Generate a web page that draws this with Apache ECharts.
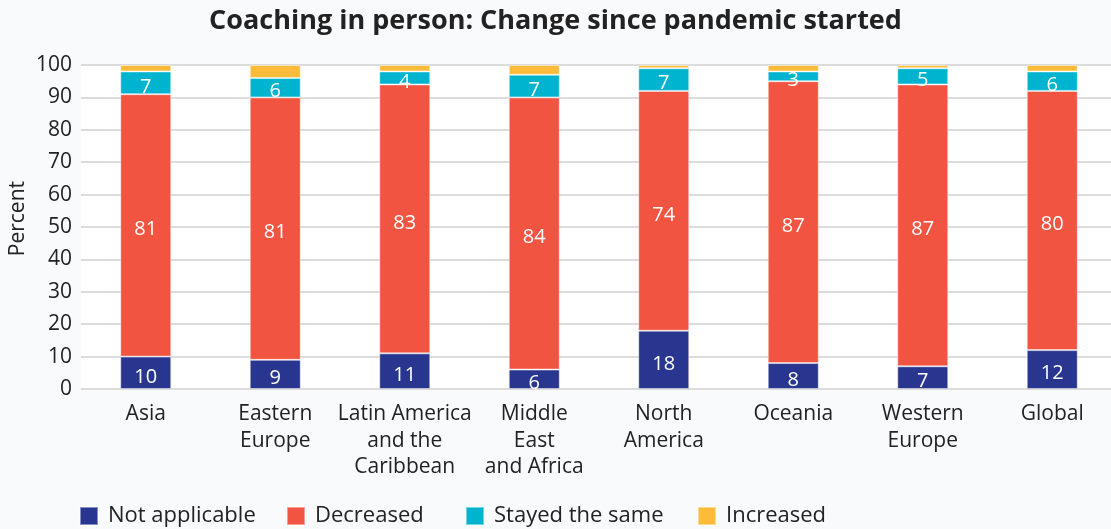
<!DOCTYPE html>
<html>
<head>
<meta charset="utf-8">
<script src="https://cdn.jsdelivr.net/npm/echarts@6/dist/echarts.min.js"></script>
<style>
    * { margin: 0; padding: 0; }
    body { background: #f9fafc; }
    #main { width: 1111px; height: 529px; }
</style>
</head>
<body>
<div id="main"></div>
<script>
    // regions along the x axis
    var regions = ['Asia', 'Eastern\nEurope', 'Latin America\nand the\nCaribbean', 'Middle\nEast\nand Africa',
        'North\nAmerica', 'Oceania', 'Western\nEurope', 'Global'];
    // percent of respondents, per region
    var notApplicable = [10, 9, 11, 6, 18, 8, 7, 12];
    var decreased = [81, 81, 83, 84, 74, 87, 87, 80];
    var stayedSame = [7, 6, 4, 7, 7, 3, 5, 6];
    var increased = [2, 4, 2, 3, 1, 2, 1, 2];

    var seriesNames = ['Not applicable', 'Decreased', 'Stayed the same', 'Increased'];
    var colors = ['#29368f', '#f15441', '#00b4d0', '#fdbb3b'];
    // left edge of each legend entry
    var legendLeft = [74, 281, 460, 692];

    var font = 'Open Sans';
    var myChart = echarts.init(document.getElementById('main'));

    function bar(i, data, showLabel) {
        return {
            name: seriesNames[i],
            type: 'bar',
            stack: 'total',
            barWidth: 51,
            data: data,
            itemStyle: {
                color: colors[i],
                borderColor: 'rgba(255,255,255,0.45)',
                borderWidth: 1
            },
            label: {
                show: showLabel,
                position: 'inside',
                offset: [0, 4],
                color: '#fff',
                fontFamily: font,
                fontSize: 20
            }
        };
    }

    // one legend per entry so the uneven gaps can be matched
    var legends = seriesNames.map(function (name, i) {
        return {
            data: [name],
            left: legendLeft[i],
            top: 500,
            itemWidth: 18,
            itemHeight: 18,
            itemGap: 0,
            icon: 'rect',
            textStyle: {
                fontFamily: font,
                fontSize: 22,
                color: '#222',
                padding: [0, 0, 0, 5]
            }
        };
    });

    var option = {
        backgroundColor: '#f9fafc',
        animation: false,
        title: {
            text: 'Coaching in person: Change since pandemic started',
            left: 'center',
            top: 3,
            textStyle: {
                fontFamily: font,
                fontWeight: 'bold',
                fontSize: 27,
                color: '#222'
            }
        },
        // y axis title, placed by hand
        graphic: [{
            type: 'text',
            left: 8,
            top: 181,
            rotation: Math.PI / 2,
            style: {
                text: 'Percent',
                fontFamily: font,
                fontSize: 21,
                fill: '#222'
            }
        }],
        legend: legends,
        grid: {
            left: 81,
            top: 65,
            width: 1036,
            height: 324,
            outerBoundsMode: 'none',
            show: true,
            backgroundColor: '#fff',
            borderWidth: 0
        },
        xAxis: {
            type: 'category',
            data: regions,
            axisLine: { show: false },
            axisTick: { show: false },
            axisLabel: {
                margin: 12,
                fontFamily: font,
                fontSize: 21,
                lineHeight: 26.5,
                color: '#222',
                interval: 0
            }
        },
        yAxis: {
            type: 'value',
            min: 0,
            max: 100,
            interval: 10,
            axisLabel: {
                margin: 9,
                fontFamily: font,
                fontSize: 21,
                color: '#222'
            },
            splitLine: {
                lineStyle: { color: '#dcdcdc', width: 2 }
            }
        },
        series: [
            bar(0, notApplicable, true),
            bar(1, decreased, true),
            bar(2, stayedSame, true),
            bar(3, increased, false)
        ]
    };

    myChart.setOption(option);
</script>
</body>
</html>
